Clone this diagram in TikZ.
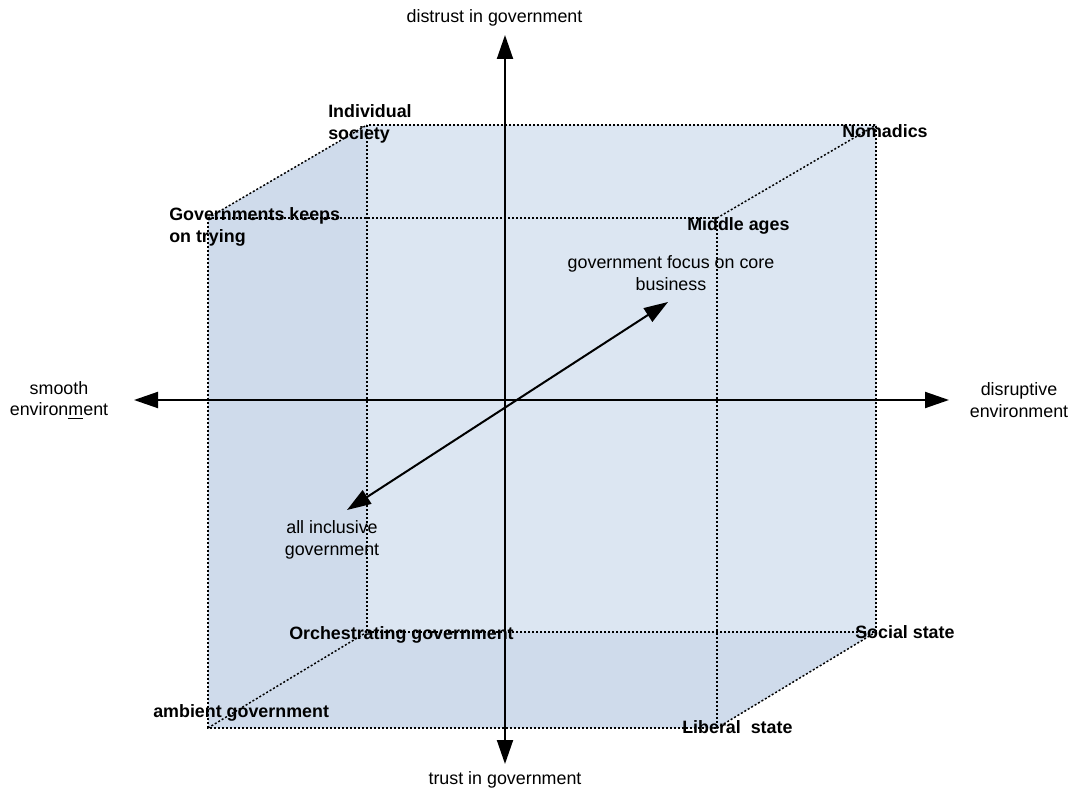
\documentclass[tikz,border=0pt]{standalone}
\usepackage{fontspec}
\setmainfont{Liberation Sans}
\usetikzlibrary{arrows.meta}
\definecolor{backfill}{RGB}{220,230,242}
\definecolor{sidefill}{RGB}{207,219,235}
\begin{document}
\begin{tikzpicture}[x=0.75pt,y=-0.75pt,
  edge/.style={line width=1.1pt, dash pattern=on 1.5pt off 1.5pt},
  axis/.style={line width=1.5pt, {Triangle[length=18pt,width=12pt]}-{Triangle[length=18pt,width=12pt]}},
  lbl/.style={font=\fontsize{13.4}{16.2}\selectfont, inner sep=0pt},
  blbl/.style={font=\bfseries\fontsize{13.4}{16.2}\selectfont, inner sep=0pt}]
\useasboundingbox (0,0) rectangle (1075,791);
% cube corners
\coordinate (B1) at (367,125);
\coordinate (B2) at (876,125);
\coordinate (B3) at (876,632);
\coordinate (B4) at (367,632);
\coordinate (F1) at (208,218);
\coordinate (F2) at (717,218);
\coordinate (F3) at (717,728);
\coordinate (F4) at (208,728);
% fills
\fill[sidefill] (B1) -- (B2) -- (B3) -- (F3) -- (F4) -- (F1) -- cycle;
\fill[backfill] (B1) rectangle (B3);
% edges
\draw[edge] (B1) rectangle (B3);
\draw[edge] (F1) rectangle (F3);
\draw[edge] (F1) -- (B1);
\draw[edge] (F2) -- (B2);
\draw[edge] (F3) -- (B3);
\draw[edge] (F4) -- (B4);
% axes
\coordinate (T) at (505,35);
\coordinate (Bo) at (505,764);
\coordinate (L) at (134,400);
\coordinate (R) at (949,400);
\coordinate (D1) at (347,510);
\coordinate (D2) at (668,302);
\draw[axis] (Bo) -- (T);
\draw[axis] (L) -- (R);
\draw[axis] (D1) -- (D2);
% labels
\node[lbl] (distrust) at (494.5,18) {distrust in government};
\node[lbl] (trust) at (505,780) {trust in government};
\node[lbl, align=center] (smooth) at (59,400) {smooth\\environ\underline{m}ent};
\node[lbl, align=center] (disrupt) at (1019,400) {disruptive\\environment};
\node[blbl, align=left, anchor=west] (indiv) at (328,124) {Individual\\society};
\node[blbl, align=left, anchor=west] (gov) at (169,227) {Governments keeps\\on trying};
\node[blbl, anchor=west] (nomad) at (842,131) {Nomadics};
\node[blbl, anchor=west] (middle) at (687,226) {Middle ages};
\node[lbl, align=center] (focus) at (671,273) {government focus on core\\business};
\node[lbl, align=center] (inclusive) at (332,540) {all inclusive\\government};
\node[blbl, anchor=west] (orch) at (289,635) {Orchestrating government};
\node[blbl, anchor=west] (ambient) at (153,713) {ambient government};
\node[blbl, anchor=west] (social) at (855,632) {Social state};
\node[blbl, anchor=west] (liberal) at (682,727) {Liberal\ \ state};
\end{tikzpicture}
\end{document}
